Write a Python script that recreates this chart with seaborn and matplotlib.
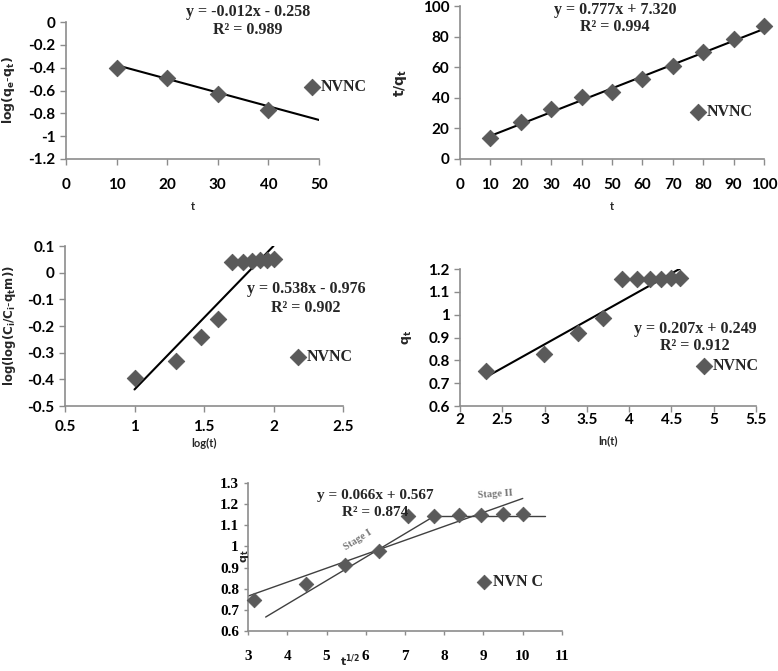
import numpy as np
import matplotlib
matplotlib.use("Agg")
import matplotlib.pyplot as plt
import seaborn as sns

# ── data ──────────────────────────────────────────────────────────────────
t_pfo = [10, 20, 30, 40]
log_qe_qt = [-0.40, -0.49, -0.63, -0.77]

t_pso = [10, 20, 30, 40, 50, 60, 70, 80, 90, 100]
t_over_qt = [13.5, 24.4, 32.9, 40.7, 43.6, 52.1, 61.0, 69.7, 78.2, 86.7]

log_t = [1.0, 1.301, 1.477, 1.602, 1.699, 1.778, 1.845, 1.903, 1.954, 2.0]
loglog_c = [-0.396, -0.330, -0.243, -0.175, 0.039, 0.041, 0.044, 0.046, 0.049, 0.050]

ln_t = [2.303, 2.996, 3.401, 3.689, 3.912, 4.094, 4.248, 4.382, 4.500, 4.605]
qt_elovich = [0.753, 0.826, 0.918, 0.984, 1.155, 1.155, 1.158, 1.158, 1.159, 1.162]

sqrt_t = [3.162, 4.472, 5.477, 6.325, 7.071, 7.746, 8.367, 8.944, 9.487, 10.0]
qt_ipd = [0.748, 0.820, 0.912, 0.978, 1.146, 1.146, 1.149, 1.149, 1.153, 1.153]

# fitted equations printed on the chart
fits = {
    "pfo": (-0.012, -0.258, 0.989),
    "pso": (0.777, 7.320, 0.994),
    "freund": (0.538, -0.976, 0.902),
    "elov": (0.207, 0.249, 0.912),
    "ipd": (0.066, 0.567, 0.874),
}
stage1_x = [3.45, 7.77]
stage1_y = [0.666, 1.146]
plateau_x = [7.77, 10.57]
plateau_y = [1.146, 1.146]

W, H = 778, 671
PT_COLOR = "#5a5a5a"
SANS = ["Lato", "DejaVu Sans"]
SERIF = ["Liberation Serif", "DejaVu Serif"]

sns.set_style("ticks")
plt.rcParams["font.family"] = SANS
plt.rcParams["mathtext.fontset"] = "dejavusans"

fig = plt.figure(figsize=(W / 100, H / 100), dpi=100)


def box(x0, x1, y0, y1):
    # pixel box -> figure fraction
    return [x0 / W, 1 - y1 / H, (x1 - x0) / W, (y1 - y0) / H]


def ftext(x, y, s, **kw):
    fig.text(x / W, 1 - y / H, s, **kw)


def style_axes(ax, xpad, serif_ticks=False):
    sns.despine(ax=ax)
    for sp in ("left", "bottom"):
        ax.spines[sp].set_color("#8c8c8c")
        ax.spines[sp].set_linewidth(1.2)
    ax.tick_params(colors="#8c8c8c", length=4, width=1.0, labelcolor="black")
    ax.tick_params(axis="x", pad=xpad)
    for lab in ax.get_xticklabels() + ax.get_yticklabels():
        if serif_ticks:
            lab.set_fontfamily(SERIF)
            lab.set_fontweight("bold")
            lab.set_fontsize(11)
        else:
            lab.set_fontfamily(SANS)
            lab.set_fontweight("bold")
            lab.set_fontsize(11)


def legend_at(ax, x, y):
    ax.legend(loc="center left", bbox_to_anchor=(x / W, 1 - y / H),
              bbox_transform=fig.transFigure, frameon=False,
              handletextpad=0.0, borderpad=0, handlelength=1.2,
              prop={"family": SERIF, "weight": "bold", "size": 11.5})


def equation(x, y1, y2, key, size=11.5):
    m, b, r2 = fits[key]
    sign = "+" if b >= 0 else "-"
    ftext(x, y1, f"y = {m:.3f}x {sign} {abs(b):.3f}", ha="center", va="center",
          family=SERIF, weight="bold", size=size)
    ftext(x, y2, f"R² = {r2:.3f}", ha="center", va="center",
          family=SERIF, weight="bold", size=size)


def fit_line(ax, key, x0, x1, **kw):
    m, b, _ = fits[key]
    xs = np.array([x0, x1])
    ax.plot(xs, m * xs + b, **kw)


def points(ax, x, y, label, s=70):
    sns.scatterplot(x=x, y=y, ax=ax, marker="D", s=s, color=PT_COLOR,
                    edgecolor=PT_COLOR, label=label, zorder=3, clip_on=False)


# ── 1. pseudo first order ─────────────────────────────────────────────────
ax1 = fig.add_axes(box(66, 319, 22, 159))
fit_line(ax1, "pfo", 10, 50, color="black", lw=1.5)
points(ax1, t_pfo, log_qe_qt, "NVNC")
ax1.set_xlim(0, 50)
ax1.set_ylim(-1.2, 0)
ax1.set_xticks(np.arange(0, 51, 10))
ax1.set_yticks(np.arange(-1.2, 0.01, 0.2))
ax1.set_yticklabels(["-1.2", "-1", "-0.8", "-0.6", "-0.4", "-0.2", "0"])
ax1.set_xlabel("t", fontsize=8, fontweight="bold", labelpad=6)
ax1.set_ylabel(r"$\mathbf{log(q_e\text{-}q_t)}$", fontsize=9, labelpad=8)
style_axes(ax1, xpad=10)
legend_at(ax1, 294, 87)
equation(248, 12, 30, "pfo")

# ── 2. pseudo second order ────────────────────────────────────────────────
ax2 = fig.add_axes(box(460, 764, 6, 159))
fit_line(ax2, "pso", 10, 100, color="black", lw=1.5)
points(ax2, t_pso, t_over_qt, "NVNC")
ax2.set_xlim(0, 100)
ax2.set_ylim(0, 100)
ax2.set_xticks(np.arange(0, 101, 10))
ax2.set_yticks(np.arange(0, 101, 20))
ax2.set_xlabel("t", fontsize=8, fontweight="bold", labelpad=6)
ax2.set_ylabel(r"$\mathbf{t/q_t}$", fontsize=10, labelpad=10)
style_axes(ax2, xpad=10)
legend_at(ax2, 680, 112)
equation(615, 10, 27, "pso")

# ── 3. Freundlich-type log-log ────────────────────────────────────────────
ax3 = fig.add_axes(box(65, 343, 246, 406))
fit_line(ax3, "freund", 1.0, 2.0, color="black", lw=1.5)
points(ax3, log_t, loglog_c, "NVNC")
ax3.set_xlim(0.5, 2.5)
ax3.set_ylim(-0.5, 0.1)
ax3.set_xticks(np.arange(0.5, 2.51, 0.5))
ax3.set_xticklabels(["0.5", "1", "1.5", "2", "2.5"])
ax3.set_yticks(np.arange(-0.5, 0.11, 0.1))
ax3.set_yticklabels(["-0.5", "-0.4", "-0.3", "-0.2", "-0.1", "0", "0.1"])
ax3.set_xlabel("log(t)", fontsize=8, fontweight="bold", labelpad=3)
ax3.set_ylabel(r"$\mathbf{log(log(C_i/C_i\text{-}q_t m))}$", fontsize=8.5, labelpad=7)
style_axes(ax3, xpad=6)
legend_at(ax3, 280, 357)
equation(306, 289, 308, "freund")

# ── 4. Elovich ────────────────────────────────────────────────────────────
ax4 = fig.add_axes(box(460, 756, 269, 406))
fit_line(ax4, "elov", 2.3, 4.6, color="black", lw=1.5)
points(ax4, ln_t, qt_elovich, "NVNC")
ax4.set_xlim(2, 5.5)
ax4.set_ylim(0.6, 1.2)
ax4.set_xticks(np.arange(2, 5.51, 0.5))
ax4.set_xticklabels(["2", "2.5", "3", "3.5", "4", "4.5", "5", "5.5"])
ax4.set_yticks(np.arange(0.6, 1.21, 0.1))
ax4.set_yticklabels(["0.6", "0.7", "0.8", "0.9", "1", "1.1", "1.2"])
ax4.set_xlabel("ln(t)", fontsize=8, fontweight="bold", labelpad=6)
ax4.set_ylabel(r"$\mathbf{q_t}$", fontsize=9, labelpad=10)
style_axes(ax4, xpad=1)
legend_at(ax4, 686, 366)
equation(695, 329, 346, "elov")

# ── 5. intraparticle diffusion ────────────────────────────────────────────
ax5 = fig.add_axes(box(248, 562, 483, 631))
fit_line(ax5, "ipd", 3.0, 10.0, color="#404040", lw=1.0)
ax5.plot(stage1_x, stage1_y, color="#404040", lw=1.0)
ax5.plot(plateau_x, plateau_y, color="#404040", lw=1.0)
points(ax5, sqrt_t, qt_ipd, "NVN C", s=55)
ax5.set_xlim(3, 11)
ax5.set_ylim(0.6, 1.3)
ax5.set_xticks(np.arange(3, 11.1, 1))
ax5.set_yticks(np.arange(0.6, 1.31, 0.1))
ax5.set_yticklabels(["0.6", "0.7", "0.8", "0.9", "1", "1.1", "1.2", "1.3"])
style_axes(ax5, xpad=11, serif_ticks=True)
ax5.tick_params(length=3)
ax5.text(5.8, 1.03, "Stage I", rotation=32, ha="center", va="center",
         family=SERIF, weight="bold", size=7.5, color="#777777")
ax5.text(9.3, 1.245, "Stage II", rotation=4, ha="center", va="center",
         family=SERIF, weight="bold", size=7.5, color="#777777")
legend_at(ax5, 466, 582)
equation(375, 496, 512, "ipd", size=11)
ftext(245, 556, r"$\mathbf{q_t}$", rotation=90, ha="center", va="center", size=8)
ftext(350, 661, r"$\mathbf{t^{1/2}}$", ha="center", va="center", size=8,
      family=SERIF)

fig.savefig("out.png", dpi=100)
